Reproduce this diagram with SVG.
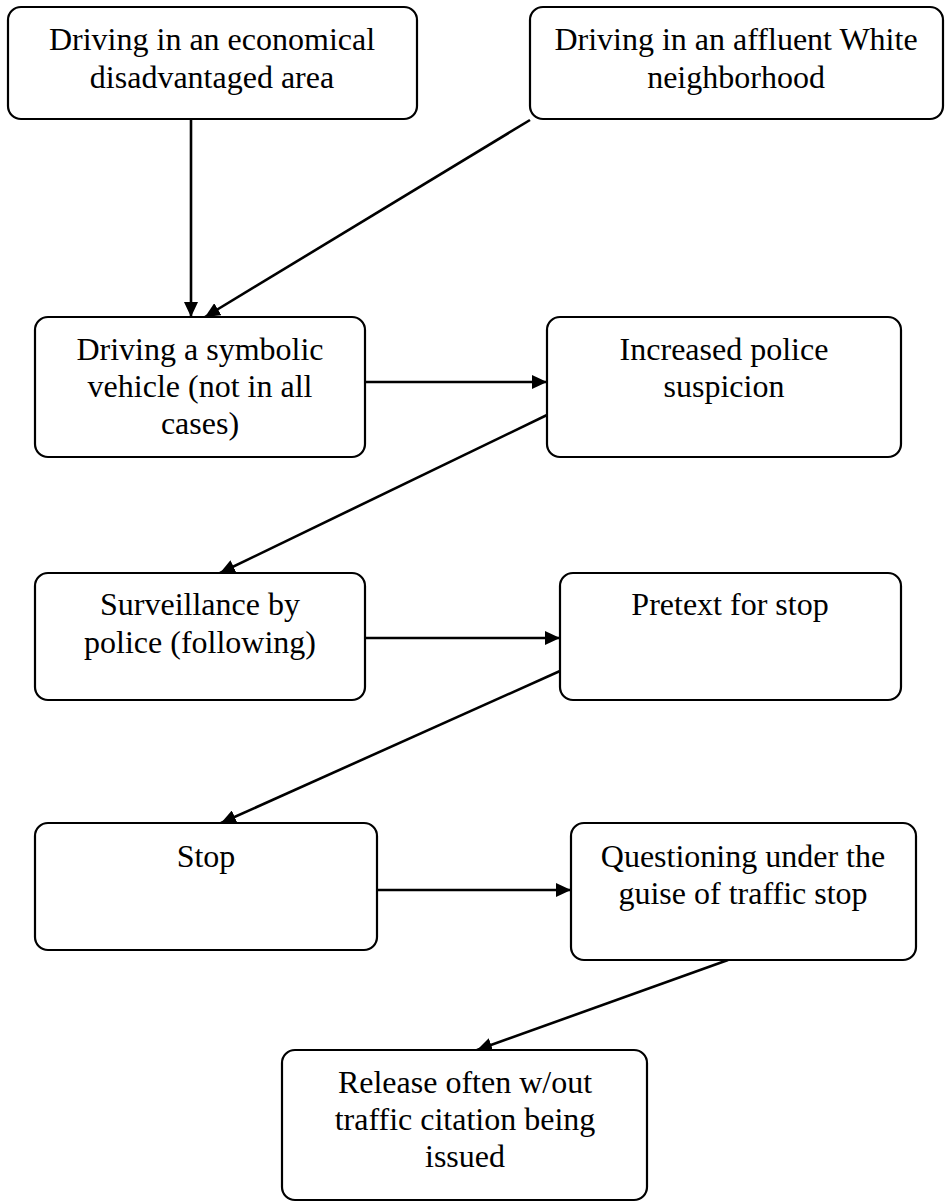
<svg xmlns="http://www.w3.org/2000/svg" width="951" height="1203" viewBox="0 0 951 1203">
<style>
.box{fill:#fff;stroke:#000;stroke-width:2.2}
.t{font-family:"Liberation Serif","Times New Roman",serif;font-size:32px;fill:#000;text-anchor:middle}
.c{stroke:#000;stroke-width:2.6;fill:none;marker-end:url(#ah)}
</style>
<defs>
<marker id="ah" markerWidth="15" markerHeight="14" refX="15" refY="7" orient="auto" markerUnits="userSpaceOnUse">
<path d="M0,0 L15,7 L0,14 z" fill="#000"/>
</marker>
</defs>
<rect width="951" height="1203" fill="#fff"/>
<g id="connectors">
<line class="c" x1="191" y1="119" x2="191" y2="317"/>
<line class="c" x1="530" y1="120" x2="205" y2="317"/>
<line class="c" x1="365" y1="382" x2="547" y2="382"/>
<line class="c" x1="547" y1="415" x2="220" y2="573"/>
<line class="c" x1="365" y1="638" x2="560" y2="638"/>
<line class="c" x1="560" y1="671" x2="221" y2="823"/>
<line class="c" x1="377" y1="890" x2="571" y2="890"/>
<line class="c" x1="728" y1="960" x2="477" y2="1050"/>
</g>
<g id="n1">
<rect class="box" x="8" y="7" width="409" height="112" rx="13"/>
<text class="t" x="212" y="50">Driving in an economical</text>
<text class="t" x="212" y="88">disadvantaged area</text>
</g>
<g id="n2">
<rect class="box" x="530" y="7" width="413" height="112" rx="13"/>
<text class="t" x="736" y="50">Driving in an affluent White</text>
<text class="t" x="736" y="88">neighborhood</text>
</g>
<g id="n3">
<rect class="box" x="35" y="317" width="330" height="140" rx="13"/>
<text class="t" x="200" y="360">Driving a symbolic</text>
<text class="t" x="200" y="397">vehicle (not in all</text>
<text class="t" x="200" y="434">cases)</text>
</g>
<g id="n4">
<rect class="box" x="547" y="317" width="354" height="140" rx="13"/>
<text class="t" x="724" y="360">Increased police</text>
<text class="t" x="724" y="397">suspicion</text>
</g>
<g id="n5">
<rect class="box" x="35" y="573" width="330" height="127" rx="13"/>
<text class="t" x="200" y="615">Surveillance by</text>
<text class="t" x="200" y="653">police (following)</text>
</g>
<g id="n6">
<rect class="box" x="560" y="573" width="341" height="127" rx="13"/>
<text class="t" x="730" y="615">Pretext for stop</text>
</g>
<g id="n7">
<rect class="box" x="35" y="823" width="342" height="127" rx="13"/>
<text class="t" x="206" y="867">Stop</text>
</g>
<g id="n8">
<rect class="box" x="571" y="823" width="345" height="137" rx="13"/>
<text class="t" x="743" y="867">Questioning under the</text>
<text class="t" x="743" y="904">guise of traffic stop</text>
</g>
<g id="n9">
<rect class="box" x="282" y="1050" width="365" height="150" rx="13"/>
<text class="t" x="465" y="1093">Release often w/out</text>
<text class="t" x="465" y="1130">traffic citation being</text>
<text class="t" x="465" y="1167">issued</text>
</g>
</svg>
